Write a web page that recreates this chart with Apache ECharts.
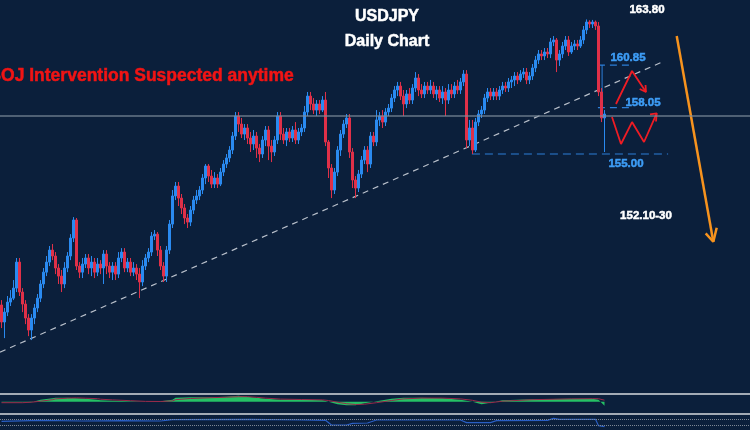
<!DOCTYPE html>
<html>
<head>
<meta charset="utf-8">
<title>USDJPY Daily Chart</title>
<script src="https://cdn.jsdelivr.net/npm/echarts@6/dist/echarts.min.js"></script>
<style>
html, body { margin: 0; padding: 0; background: #0b1f3b; }
#chart { width: 750px; height: 430px; }
</style>
</head>
<body>
<div id="chart"></div>
<script>
// daily candles, [open, close, low, high]
var candles = [
    [145.07, 143.95, 143.55, 145.39], [143.95, 144.60, 142.89, 144.87], [144.60, 145.26, 144.34, 145.66], [145.26, 145.52, 145.00, 146.05], [145.52, 146.18, 145.39, 146.71],
    [146.18, 147.89, 145.92, 148.16], [147.89, 145.92, 145.66, 148.16], [145.92, 145.13, 144.60, 146.18], [145.13, 144.21, 143.81, 145.39], [144.21, 143.42, 143.02, 144.47],
    [143.42, 144.21, 142.76, 144.47], [144.21, 144.87, 143.81, 145.13], [144.87, 145.52, 144.60, 145.79], [145.52, 146.45, 145.26, 146.71], [146.45, 147.23, 146.18, 147.50],
    [147.23, 147.89, 146.97, 148.29], [147.89, 148.68, 147.63, 148.95], [148.68, 148.29, 148.02, 149.08], [148.29, 147.50, 147.10, 148.55], [147.50, 146.97, 146.45, 147.76],
    [146.97, 146.45, 145.92, 147.37], [146.45, 147.50, 146.18, 147.89], [147.50, 148.29, 147.23, 148.55], [148.29, 149.47, 148.02, 149.73], [149.47, 150.66, 149.21, 150.85],
    [150.66, 147.63, 147.37, 150.79], [147.63, 147.23, 146.84, 147.89], [147.23, 147.76, 146.84, 148.16], [147.76, 148.16, 147.50, 148.42], [148.16, 147.50, 147.10, 148.42],
    [147.50, 147.89, 146.97, 148.29], [147.89, 147.23, 146.84, 148.16], [147.23, 147.76, 146.97, 148.16], [147.76, 147.50, 147.10, 148.02], [147.50, 148.42, 146.45, 148.68],
    [148.42, 147.63, 147.10, 148.68], [147.63, 147.23, 146.84, 147.89], [147.23, 147.63, 146.71, 147.89], [147.63, 147.10, 146.71, 147.89], [147.10, 148.16, 146.84, 148.55],
    [148.16, 148.55, 147.89, 148.81], [148.55, 147.50, 147.23, 148.81], [147.50, 147.89, 147.23, 148.16], [147.89, 147.23, 146.97, 148.16], [147.23, 147.50, 146.97, 147.89],
    [147.50, 147.10, 146.71, 147.76], [147.10, 146.58, 145.52, 147.50], [146.58, 147.63, 146.31, 148.02], [147.63, 148.16, 147.37, 148.42], [148.16, 148.55, 147.89, 148.81],
    [148.55, 149.60, 148.29, 149.87], [149.60, 149.73, 149.34, 150.00], [149.73, 148.68, 148.29, 149.87], [148.68, 147.63, 147.37, 148.95], [147.63, 146.97, 146.58, 147.89],
    [146.97, 148.68, 146.58, 148.95], [148.68, 150.39, 148.42, 150.66], [150.39, 152.24, 150.13, 152.63], [152.24, 152.89, 151.97, 153.16], [152.89, 152.10, 151.58, 153.16],
    [152.10, 151.45, 151.05, 152.37], [151.45, 150.79, 150.39, 151.71], [150.79, 150.52, 150.13, 151.05], [150.52, 151.31, 150.26, 151.58], [151.31, 151.97, 151.05, 152.24],
    [151.97, 152.24, 151.71, 152.63], [152.24, 152.63, 151.97, 152.89], [152.63, 153.42, 152.37, 153.68], [153.42, 154.21, 153.02, 154.34], [154.21, 153.55, 153.16, 154.34],
    [153.55, 153.02, 152.76, 153.95], [153.02, 153.42, 152.76, 153.81], [153.42, 153.02, 152.76, 153.68], [153.02, 153.81, 152.89, 154.08], [153.81, 154.34, 153.55, 154.60],
    [154.34, 154.74, 154.08, 155.00], [154.74, 155.26, 154.47, 155.52], [155.26, 156.18, 155.00, 156.45], [156.18, 157.50, 155.92, 157.76], [157.50, 156.97, 156.45, 157.76],
    [156.97, 156.31, 156.05, 157.37], [156.31, 156.71, 155.92, 156.97], [156.71, 156.05, 155.66, 156.97], [156.05, 155.66, 155.13, 156.45], [155.66, 156.18, 155.26, 156.58],
    [156.18, 155.39, 154.74, 156.45], [155.39, 155.00, 154.47, 155.66], [155.00, 155.92, 154.74, 156.18], [155.92, 156.58, 155.52, 156.84], [156.58, 155.52, 154.60, 156.84],
    [155.52, 155.13, 154.47, 155.92], [155.13, 155.92, 154.87, 156.18], [155.92, 157.50, 155.66, 157.76], [157.50, 156.31, 155.92, 157.76], [156.31, 155.92, 155.66, 156.71],
    [155.92, 156.45, 155.52, 156.71], [156.45, 156.05, 155.79, 156.71], [156.05, 156.58, 155.79, 156.84], [156.58, 155.92, 155.66, 157.10], [155.92, 156.45, 155.66, 156.71],
    [156.45, 156.71, 156.18, 156.97], [156.71, 157.76, 156.45, 158.16], [157.76, 158.81, 157.50, 159.08], [158.81, 158.29, 157.89, 159.08], [158.29, 157.89, 157.63, 158.68],
    [157.89, 158.29, 157.50, 158.55], [158.29, 157.89, 157.63, 158.55], [157.89, 158.55, 157.76, 158.81], [158.55, 155.79, 155.52, 159.08], [155.79, 154.08, 153.42, 155.92],
    [154.08, 152.63, 152.10, 154.34], [152.63, 153.81, 152.37, 154.08], [153.81, 155.26, 153.55, 155.52], [155.26, 156.31, 154.87, 156.58], [156.31, 156.97, 156.05, 157.24],
    [156.97, 157.37, 156.71, 157.63], [157.37, 155.13, 154.74, 157.63], [155.13, 153.29, 152.76, 155.39], [153.29, 152.76, 152.10, 153.55], [152.76, 153.68, 152.50, 153.95],
    [153.68, 154.60, 153.42, 154.87], [154.60, 155.26, 154.34, 155.52], [155.26, 154.34, 153.81, 155.52], [154.34, 156.18, 154.08, 156.45], [156.18, 155.79, 155.52, 156.45],
    [155.79, 157.24, 155.52, 157.89], [157.24, 157.50, 156.84, 157.76], [157.50, 157.10, 156.71, 157.89], [157.10, 157.76, 156.84, 158.02], [157.76, 158.02, 157.50, 158.29],
    [158.02, 158.68, 157.76, 158.95], [158.68, 159.21, 158.42, 159.47], [159.21, 159.47, 158.81, 159.74], [159.47, 158.81, 158.55, 159.74], [158.81, 158.29, 157.50, 159.21],
    [158.29, 158.95, 158.02, 159.21], [158.95, 158.55, 158.29, 159.34], [158.55, 159.34, 158.29, 159.60], [159.34, 160.00, 159.08, 160.39], [160.00, 159.21, 158.81, 160.26],
    [159.21, 158.95, 158.68, 159.60], [158.95, 159.47, 158.68, 159.74], [159.47, 159.21, 158.95, 159.74], [159.21, 159.47, 158.95, 159.87], [159.47, 158.95, 158.68, 159.74],
    [158.95, 159.21, 158.55, 159.47], [159.21, 158.68, 158.42, 159.47], [158.68, 159.08, 158.29, 159.47], [159.08, 158.55, 157.50, 159.34], [158.55, 159.21, 158.29, 159.60],
    [159.21, 158.95, 158.68, 159.60], [158.95, 159.47, 158.68, 159.74], [159.47, 159.21, 158.95, 159.87], [159.21, 159.74, 158.95, 160.00], [159.74, 160.26, 159.47, 160.52],
    [160.26, 155.92, 155.39, 160.52], [155.92, 156.71, 155.52, 157.24], [156.71, 155.26, 155.00, 157.24], [155.26, 157.10, 155.13, 157.37], [157.10, 157.63, 156.84, 157.89],
    [157.63, 157.89, 157.37, 158.16], [157.89, 158.68, 157.63, 158.95], [158.68, 159.08, 158.42, 159.34], [159.08, 158.81, 158.55, 159.34], [158.81, 159.08, 158.55, 159.34],
    [159.08, 158.81, 158.55, 159.34], [158.81, 159.21, 158.55, 159.47], [159.21, 159.47, 158.95, 159.74], [159.47, 159.34, 159.08, 159.74], [159.34, 159.74, 159.08, 160.00],
    [159.74, 159.87, 159.34, 160.13], [159.87, 160.13, 159.47, 160.39], [160.13, 159.87, 159.60, 160.39], [159.87, 160.26, 159.74, 160.52], [160.26, 160.39, 160.00, 160.66],
    [160.39, 159.87, 159.60, 160.66], [159.87, 160.13, 159.60, 160.39], [160.13, 160.66, 159.87, 160.92], [160.66, 161.18, 160.39, 161.45], [161.18, 161.58, 160.92, 161.84],
    [161.58, 161.45, 161.18, 161.84], [161.45, 161.71, 161.18, 161.97], [161.71, 161.58, 161.31, 161.97], [161.58, 162.37, 161.31, 162.63], [162.37, 162.50, 162.10, 162.76],
    [162.50, 161.18, 160.39, 162.63], [161.18, 161.58, 160.79, 161.84], [161.58, 162.10, 161.31, 162.37], [162.10, 162.50, 161.84, 162.76], [162.50, 161.71, 161.45, 162.76],
    [161.71, 162.10, 161.58, 162.37], [162.10, 162.24, 161.84, 162.50], [162.24, 162.10, 161.84, 162.50], [162.10, 162.50, 161.97, 162.76], [162.50, 163.16, 162.24, 163.42],
    [163.16, 163.68, 162.89, 163.85], [163.68, 163.55, 163.29, 163.80], [163.55, 163.68, 163.29, 163.82], [163.68, 163.42, 163.16, 163.78], [163.42, 159.08, 158.81, 163.68],
    [159.08, 157.37, 157.10, 159.34], [157.37, 157.63, 155.13, 157.89]
];

// macd pane, sampled along the day index
var macdDay = [0, 7, 10, 13, 17, 18, 22, 25, 28, 32, 33, 37, 43, 48, 53, 57, 58, 63, 70, 75,
    79, 82, 85, 88, 93, 100, 107, 109, 112, 115, 118, 121, 125, 130, 134, 140, 147, 153, 157, 160,
    163, 167, 177, 190, 197, 199, 201];
var macdHist = [-0.5, -0.5, -0.5, 2, 3.5, 4, 4, 3.5, 3, 2, 1.5, 1, 0.5, 0, 0.5, 2, 4, 4.5, 4.5, 5,
    6, 5, 4, 3, 2, 2, 1.5, 0, -2.5, -3.5, -3.5, -1.5, 0.5, 3, 4, 4, 3.5, 2, 0, -2.5,
    -1, 1.5, 2.5, 3, 3, 2, -4];
var macdSignal = [-1, -1, -0.5, 0.5, 2, 2.8, 3.5, 3.8, 3.5, 3, 2.5, 1.8, 1, 0.3, 0.2, 0.8, 2, 3.2, 4, 4.5,
    5, 5, 4.4, 3.6, 2.6, 2.2, 1.8, 1.2, -0.5, -2, -2.8, -2.5, -1, 1.2, 2.8, 3.6, 3.6, 2.8, 1.4, -0.5,
    -1, 0.5, 2, 2.8, 3, 3, 1.5];

// bottom oscillator pane
var oscDay = [0, 13, 27, 40, 53, 57, 83, 100, 108, 110, 115, 117, 122, 125, 153, 155, 163, 165, 182, 184, 186, 198, 199, 201];
var oscValue = [56, 62, 58, 60, 58, 66, 68, 64, 62, 34, 34, 44, 46, 64, 64, 48, 48, 60, 62, 74, 68, 68, 30, 24];
var oscLevels = [70, 30];

// drawn annotations, in [day index, price]
var trendLine = [[-0.5, 141.97], [220.2, 161.05]];
var level16085 = [[198.8, 160.85], [210.2, 160.85]];
var level15805 = [[198.8, 158.05], [209.8, 158.05]];
var level15500 = [[156.8, 155.00], [222.2, 155.00]];
var rangeBar = [[200.2, 160.85], [200.2, 158.05]];
var pathUp = [[204.83, 158.29], [210.17, 160.46], [214.83, 159.08]];
var headUp = [[212.73, 159.28], [214.83, 159.08], [214.67, 159.54]];
var pathRange = [[203.5, 157.43], [206.5, 155.66], [210.17, 157.10], [214.17, 155.79], [218.4, 157.68]];
var headRange = [[216.17, 157.60], [218.4, 157.68], [218.17, 157.14]];
var pathDown = [[225.07, 162.76], [237.27, 149.23]];
var headDown = [[234.73, 149.78], [237.27, 149.23], [238.4, 150.15]];
var priceLine = 157.52;

var totalDays = 250;
var days = [];
for (var i = 0; i < totalDays; i++) {
    days.push('D' + (i + 1));
}

function pairs(xs, ys) {
    return xs.map(function (x, k) { return [x, ys[k]]; });
}

function drawLine(data, color, width, type, xIdx, yIdx) {
    return {
        type: 'line',
        xAxisIndex: xIdx == null ? 1 : xIdx,
        yAxisIndex: yIdx == null ? 0 : yIdx,
        data: data,
        showSymbol: false,
        silent: true,
        lineStyle: { color: color, width: width, type: type || 'solid' },
        z: 3
    };
}

var dom = document.getElementById('chart');
var myChart = echarts.init(dom);
var fontFamily = '"Liberation Sans", Arial, sans-serif';
var blueLabel = '#3d9cf5';
var blueLine = '#2d7fd8';
var redArrow = '#ee1c24';
var orange = '#f7931e';

// bold text, a thin stroke of the same colour makes it look as heavy as the original
function label(text, x, y, color, size, align) {
    return {
        type: 'text', x: x, y: y, z: 10,
        style: {
            text: text, fill: color, stroke: color, lineWidth: 0.5,
            fontSize: size, fontWeight: 'bold', fontFamily: fontFamily,
            align: align || 'center', verticalAlign: 'middle'
        }
    };
}

var paneAxis = {
    type: 'value', min: -0.5, max: totalDays - 0.5, position: 'top',
    axisLine: { show: true, onZero: false, lineStyle: { color: '#a3abb5', width: 2 } },
    axisTick: { show: false }, axisLabel: { show: false }, splitLine: { show: false }
};

var option = {
    backgroundColor: '#0b1f3b',
    animation: false,
    grid: [
        { left: 0, right: 0, top: 0, height: 393 },
        { left: 0, right: 0, top: 394, height: 20 },
        { left: 0, right: 0, top: 414, height: 16 }
    ],
    xAxis: [
        { type: 'category', gridIndex: 0, data: days, boundaryGap: true, show: false },
        { type: 'value', gridIndex: 0, min: -0.5, max: totalDays - 0.5, show: false },
        Object.assign({ gridIndex: 1 }, paneAxis),
        Object.assign({ gridIndex: 2 }, paneAxis)
    ],
    yAxis: [
        { type: 'value', gridIndex: 0, min: 139.28, max: 165.13, show: false },
        { type: 'value', gridIndex: 1, min: -12.3, max: 7.7, show: false },
        { type: 'value', gridIndex: 2, min: 4, max: 100, show: false }
    ],
    series: [
        {
            type: 'candlestick',
            xAxisIndex: 0,
            yAxisIndex: 0,
            data: candles,
            barWidth: 2,
            z: 4,
            itemStyle: {
                color: '#2a8af0', color0: '#e03048',
                borderColor: '#2a8af0', borderColor0: '#e03048', borderWidth: 1
            },
            markLine: {
                silent: true, symbol: 'none', label: { show: false },
                lineStyle: { color: 'rgba(125,140,155,0.6)', width: 2, type: 'solid' },
                data: [{ yAxis: priceLine }]
            }
        },
        drawLine(trendLine, 'rgba(215,220,228,0.85)', 1.2, [6, 5]),
        drawLine(level16085, blueLine, 1.2, [7, 5]),
        drawLine(level15805, blueLine, 1.2, [7, 5]),
        drawLine(level15500, blueLine, 1.2, [8, 5]),
        drawLine(rangeBar, blueLine, 1, 'solid'),
        drawLine(pathUp, redArrow, 1.8),
        drawLine(headUp, redArrow, 1.8),
        drawLine(pathRange, redArrow, 1.8),
        drawLine(headRange, redArrow, 1.8),
        drawLine(pathDown, orange, 2.5),
        drawLine(headDown, orange, 2.5),
        {
            type: 'line', xAxisIndex: 2, yAxisIndex: 1,
            data: pairs(macdDay, macdHist),
            showSymbol: false, silent: true,
            lineStyle: { width: 0 },
            areaStyle: { color: '#25c065', opacity: 1 }
        },
        drawLine(pairs(macdDay, macdSignal), '#9a2a4a', 1, 'solid', 2, 1),
        {
            type: 'line', xAxisIndex: 3, yAxisIndex: 2,
            data: pairs(oscDay, oscValue),
            showSymbol: false, silent: true,
            lineStyle: { color: '#2a5fc4', width: 1.2 },
            markLine: {
                silent: true, symbol: 'none', label: { show: false },
                lineStyle: { color: '#7d8794', width: 1, type: 'dotted' },
                data: oscLevels.map(function (v) { return { yAxis: v }; })
            }
        }
    ],
    graphic: [
        label('USDJPY', 387, 17, '#ffffff', 16),
        label('Daily Chart', 387, 42, '#ffffff', 16),
        label('BOJ Intervention Suspected anytime', -11.6, 76, '#f01414', 17.5, 'left'),
        label('163.80', 647, 10, '#ffffff', 11.5),
        label('160.85', 628, 58, blueLabel, 11.5),
        label('158.05', 643, 103, blueLabel, 11.5),
        label('155.00', 626, 164, blueLabel, 11.5),
        label('152.10-30', 646, 216, '#ffffff', 11.5)
    ]
};

if (option && typeof option === 'object') {
    myChart.setOption(option, true);
}
</script>
</body>
</html>
